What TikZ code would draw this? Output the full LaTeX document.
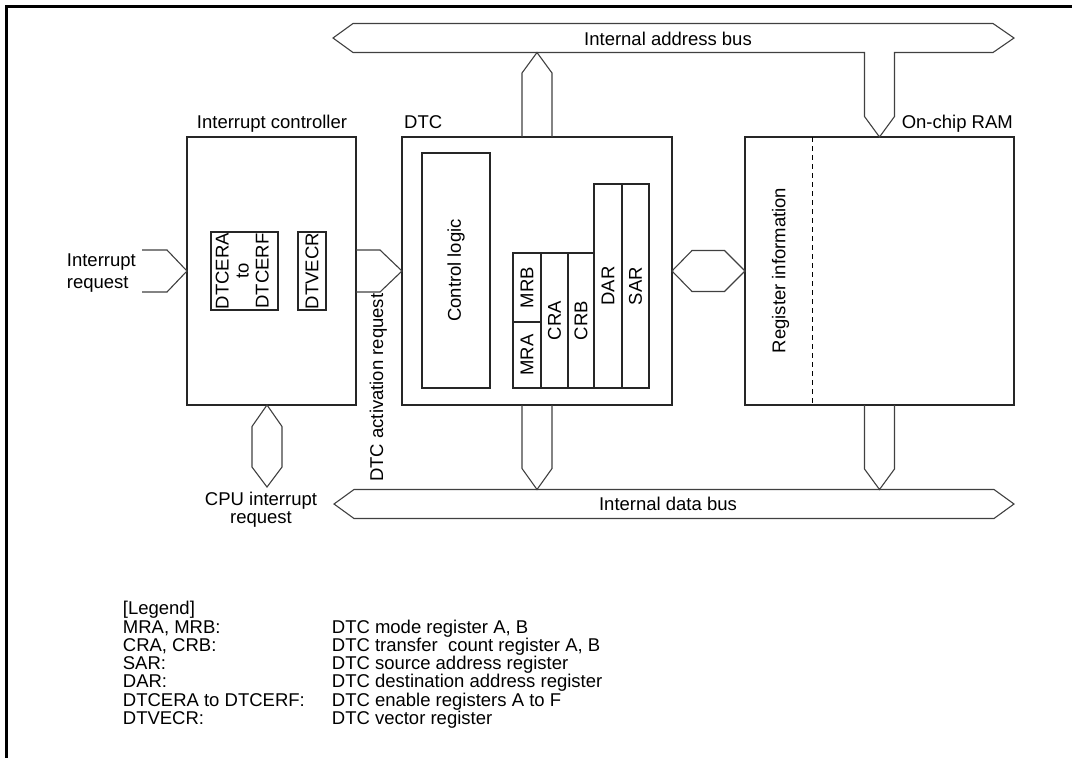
\documentclass[tikz,border=0pt]{standalone}
\usepackage{fontspec}
\setmainfont{Liberation Sans}
\usepackage{graphicx}
\usetikzlibrary{positioning}
\tikzset{
  blk/.style={draw=black!85, line width=2.2pt, inner sep=0pt, outer sep=0pt},
  bus/.style={draw=black!75, line width=1.1pt, line join=miter},
  lbl/.style={inner sep=0pt, anchor=base},
  rot/.style={inner sep=0pt, rotate=90},
}
\newcommand{\vtext}[1]{\rotatebox{90}{#1}}

\begin{document}
\begin{tikzpicture}[x=1pt, y=-1pt, font=\fontsize{18.5}{20}\selectfont]
  \useasboundingbox (0,0) rectangle (1072,758);
  \draw[line width=2.2pt] (6.5,758) -- (6.5,6.5) -- (1072,6.5);
  % Blocos
  \node[blk, minimum width=169pt, minimum height=268pt] (ctrl) at (271.5,271) {};
  \node[blk, minimum width=270pt, minimum height=268pt] (dtc)  at (537,271)   {};
  \node[blk, minimum width=269pt, minimum height=268pt] (ram)  at (879.5,271) {};
  \node[lbl]                   at (272,128)  {Interrupt controller};
  \node[lbl, anchor=base west] at (404,128)  {DTC};
  \node[lbl, anchor=base east] at (1013,128) {On-chip RAM};
  % Registradores
  \node[blk, minimum width=67pt, minimum height=78pt] (dtcer) at (244.5,271)
    {\vtext{\begin{tabular}{@{}c@{}}DTCERA\\to\\DTCERF\end{tabular}}};
  \node[blk, minimum width=28pt, minimum height=78pt] (dtvecr) at (312,271) {\vtext{DTVECR}};
  \node[blk, minimum width=68pt, minimum height=235pt] (logic) at (456,270.5) {\vtext{Control logic}};
  \node[blk, minimum width=28pt, minimum height=69pt] (mrb) at (527,287.5) {\vtext{MRB}};
  \node[blk, minimum width=28pt, minimum height=66pt, below=0pt of mrb] (mra) {\vtext{MRA}};
  \node[blk, minimum width=27pt, minimum height=135pt, anchor=north west] (cra) at (mrb.north east) {\vtext{CRA}};
  \node[blk, minimum width=26pt, minimum height=135pt, anchor=north west] (crb) at (cra.north east) {\vtext{CRB}};
  \node[blk, minimum width=28pt, minimum height=204pt, anchor=south west] (dar) at (crb.south east) {\vtext{DAR}};
  \node[blk, minimum width=27pt, minimum height=204pt, anchor=south west] (sar) at (dar.south east) {\vtext{SAR}};
  \coordinate (regsep) at (812,0);
  \draw[line width=1pt, dash pattern=on 5pt off 4pt] (ram.north -| regsep) -- (ram.south -| regsep);
  \node[rot] at (780.5,270.5) {Register information};
  % Barramentos
  \coordinate (ab-l) at (333,38);
  \coordinate (ab-r) at (1014,38);
  \coordinate (db-l) at (334,504);
  \coordinate (db-r) at (1014,504);
  \draw[bus] (ab-l) -- (353,23.5) -- (993,23.5) -- (ab-r) -- (993,52.5) -- (894.5,52.5)
    -- (894.5,116.5) -- (ram.north) -- (864.5,116.5) -- (864.5,52.5) -- (353,52.5) -- cycle;
  \draw[bus] (db-l) -- (354,489.5) -- (994,489.5) -- (db-r) -- (994,518.5) -- (354,518.5) -- cycle;
  \node[lbl] at (668,45)    {Internal address bus};
  \node[lbl] at (668,510.5) {Internal data bus};
  \draw[bus] (dtc.north) ++(-15,0) -- ++(0,-64) -- ++(15,-20.5) -- ++(15,20.5) -- ++(0,64);
  \draw[bus] (dtc.south) ++(-15,0) -- ++(0,63.5) -- ++(15,21) -- ++(15,-21) -- ++(0,-63.5);
  \draw[bus] (ram.south) ++(-15,0) -- ++(0,64) -- ++(15,20.5) -- ++(15,-20.5) -- ++(0,-64);
  % Sinais
  \draw[bus] (ctrl.west) ++(-45,-21) -- ++(25,0) -- (ctrl.west) -- ++(-20,21) -- ++(-25,0);
  \draw[bus] (ctrl.east) ++(0,-21) -- ++(24,0) -- (dtc.west) -- ++(-22,21) -- ++(-24,0);
  \draw[bus] (dtc.east) -- ++(20,-20.5) -- ++(32.5,0) -- (ram.west) -- ++(-20.5,20.5) -- ++(-32.5,0) -- cycle;
  \coordinate (cpu) at (267,487);
  \draw[bus] (cpu |- ctrl.south) -- ++(15,21.5) -- ++(0,40.5) -- (cpu) -- ++(-15,-20) -- ++(0,-40.5) -- cycle;
  \node[lbl, anchor=base west] at (66.7,266.7) {Interrupt};
  \node[lbl, anchor=base west] at (66.7,288.3) {request};
  \node[rot, anchor=base west] at (383,482) {DTC activation request};
  \node[lbl] at (261,505) {CPU interrupt};
  \node[lbl] at (261,523) {request};
  % Legenda
  \node[lbl, anchor=base west] at (122.7,614.7) {[Legend]};
  \node[lbl, anchor=base west] at (122.7,633)   {MRA, MRB:};
  \node[lbl, anchor=base west] at (331.7,633)   {DTC mode register A, B};
  \node[lbl, anchor=base west] at (122.7,651.3) {CRA, CRB:};
  \node[lbl, anchor=base west] at (331.7,651.3) {DTC transfer~ count register A, B};
  \node[lbl, anchor=base west] at (122.7,669.6) {SAR:};
  \node[lbl, anchor=base west] at (331.7,669.6) {DTC source address register};
  \node[lbl, anchor=base west] at (122.7,687.9) {DAR:};
  \node[lbl, anchor=base west] at (331.7,687.9) {DTC destination address register};
  \node[lbl, anchor=base west] at (122.7,706.2) {DTCERA to DTCERF:};
  \node[lbl, anchor=base west] at (331.7,706.2) {DTC enable registers A to F};
  \node[lbl, anchor=base west] at (122.7,724.5) {DTVECR:};
  \node[lbl, anchor=base west] at (331.7,724.5) {DTC vector register};
\end{tikzpicture}
\end{document}
